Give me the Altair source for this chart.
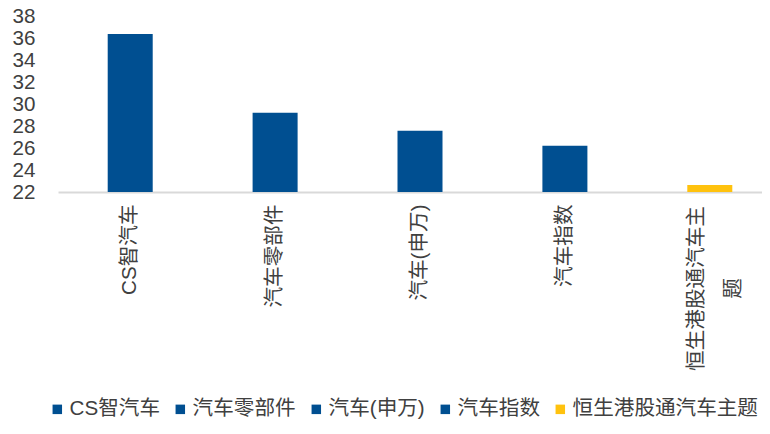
import altair as alt
import pandas as pd

categories = ['CS智汽车', '汽车零部件', '汽车(申万)', '汽车指数', '恒生港股通汽车主题']
values = [36.36, 29.21, 27.57, 26.21, 22.64]
colors = ['#004F91', '#004F91', '#004F91', '#004F91', '#FFC20E']
y_ticks = [22, 24, 26, 28, 30, 32, 34, 36, 38]
y_min, y_max = 22, 38

df = pd.DataFrame({'category': categories, 'value': values})

FONT = 'Liberation Sans, Arial, Noto Sans CJK SC'
TXT = '#404040'
FS = 20.6
LONG = categories[4]
test = f"datum.value == '{LONG}'"

x_axis = alt.Axis(
    title=None,
    labelAngle=270,
    labelFontSize=FS,
    labelFont=FONT,
    labelColor=TXT,
    labelAlign={'condition': {'test': test, 'value': 'center'}, 'value': 'right'},
    labelBaseline='middle',
    labelPadding={'condition': {'test': test, 'value': 96}, 'value': 12},
    labelOffset={'condition': {'test': test, 'value': -13}, 'value': 0},
    labelExpr=f"datum.value == '{LONG}' ? ['恒生港股通汽车主', '题'] : datum.label",
    labelLineHeight=37,
    labelLimit=400,
    labelOverlap=False,
    labelFlush=False,
    domainColor='#D9D9D9',
    domainWidth=2,
    ticks=False,
    tickSize=0,
)

y_axis = alt.Axis(
    title=None,
    values=y_ticks,
    labelFontSize=FS,
    labelFont=FONT,
    labelColor=TXT,
    labelPadding=23,
    labelOffset=0,
    ticks=False,
    tickSize=0,
    domain=False,
    grid=False,
)

legend = alt.Legend(
    title=None,
    orient='none',
    legendX=-11,
    legendY=383,
    direction='horizontal',
    symbolType='square',
    symbolSize=90,
    symbolStrokeWidth=0,
    labelFontSize=FS,
    labelFont=FONT,
    labelColor=TXT,
    columnPadding=10,
    labelOffset=2,
    labelLimit=400,
    padding=0,
)

chart = alt.Chart(df).mark_bar().encode(
    x=alt.X('category:N', sort=categories,
            scale=alt.Scale(paddingInner=0.6894, paddingOuter=0.274, align=0.626, round=False),
            axis=x_axis),
    y=alt.Y('value:Q', scale=alt.Scale(domain=[y_min, y_max], zero=False, nice=False),
            axis=y_axis),
    y2=alt.datum(y_min),
    color=alt.Color('category:N', sort=categories,
                    scale=alt.Scale(domain=categories, range=colors),
                    legend=legend),
).properties(
    width=704,
    height=176,
    autosize=alt.AutoSizeParams(type='none'),
    padding={'left': 50, 'top': 8, 'right': 0, 'bottom': 236},
).configure_view(stroke=None)

chart.save('out.html', embed_options={'renderer': 'svg', 'actions': False})
